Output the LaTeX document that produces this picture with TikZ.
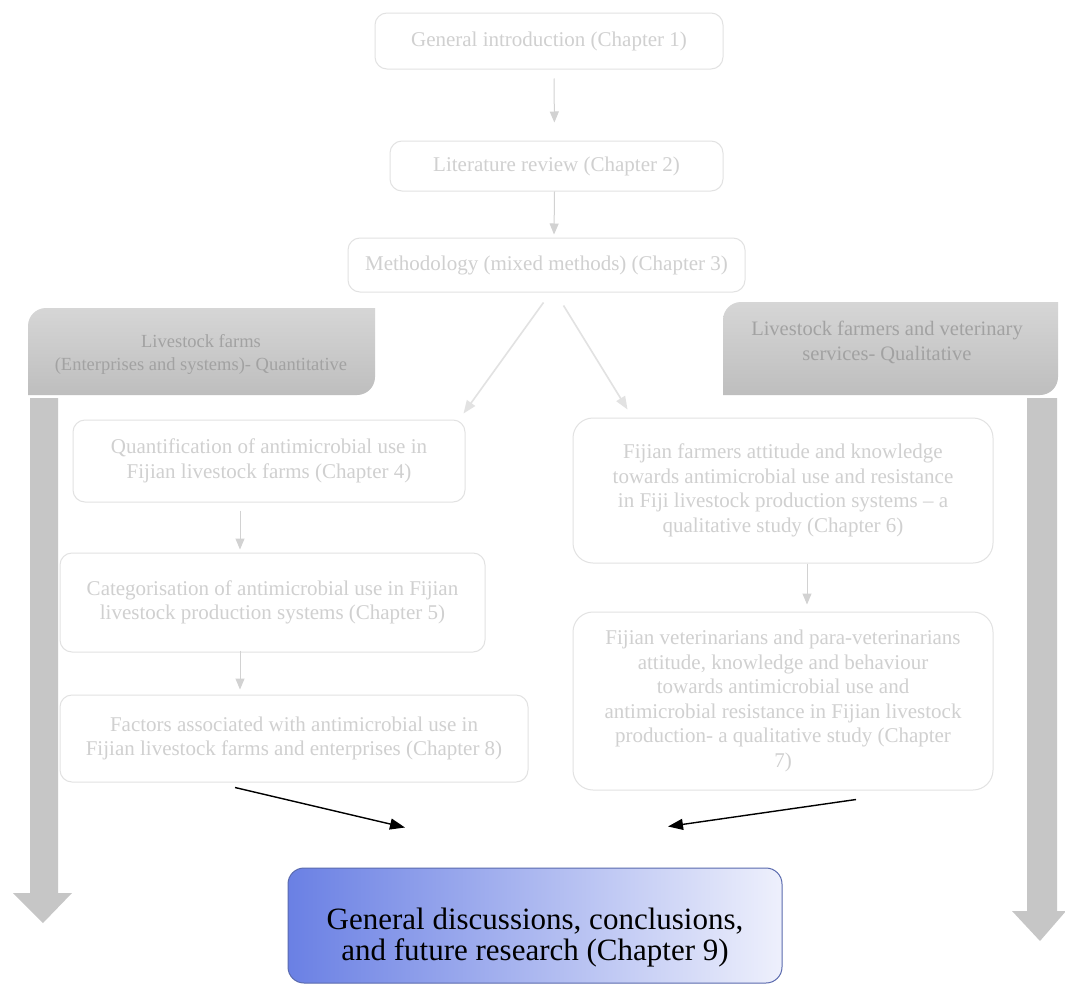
\documentclass[tikz,border=0pt]{standalone}
\usepackage{fontspec}
\setmainfont{Liberation Serif}
\usetikzlibrary{calc,arrows.meta}

\definecolor{boxline}{HTML}{E2E2E2}
\definecolor{boxtext}{HTML}{D0D0D0}
\definecolor{faintarrow}{HTML}{D2D2D2}
\definecolor{hdrtop}{HTML}{D6D6D6}
\definecolor{hdrbottom}{HTML}{BEBEBE}
\definecolor{hdrtext}{HTML}{A2A2A2}
\definecolor{shaftgray}{HTML}{C6C6C6}
\definecolor{finalleft}{HTML}{6A80E4}
\definecolor{finalright}{HTML}{EEF0FC}
\definecolor{finalline}{HTML}{5A6AAE}

\tikzset{
  chapbox/.style={draw=boxline, line width=1pt, rounded corners=12pt,
    text=boxtext, align=center, inner sep=0pt,
    font=\fontsize{21}{24.5}\selectfont},
  hdrtextnode/.style={text=hdrtext, align=center, inner sep=0pt},
  faintarr/.style={draw=faintarrow, line width=1pt,
    -{Triangle[length=11pt,width=9pt]}},
  diagarr/.style={draw=boxline, line width=1.6pt,
    -{Triangle[length=13pt,width=10pt]}},
  blackarr/.style={draw=black, line width=1.4pt,
    -{Triangle[length=15pt,width=11pt]}},
  finalbox/.style={draw=finalline, line width=1pt, rounded corners=16pt,
    left color=finalleft, right color=finalright},
  finaltextnode/.style={text=black, align=center, inner sep=0pt,
    font=\fontsize{31}{31.5}\selectfont},
  shaft/.style={fill=shaftgray, draw=none},
}

\begin{document}
\begin{tikzpicture}[x=1pt,y=-1pt]
\useasboundingbox[fill=white] (0,0) rectangle (1065,985);

% column headers: rounded at top-left and bottom-right only
\shade[top color=hdrtop, bottom color=hdrbottom]
  (28,395) -- (28,326) arc[start angle=180, end angle=270, radius=18]
  -- (375,308) -- (375,377) arc[start angle=0, end angle=90, radius=18]
  -- cycle;
\shade[top color=hdrtop, bottom color=hdrbottom]
  (723,395) -- (723,320) arc[start angle=180, end angle=270, radius=18]
  -- (1058,302) -- (1058,377) arc[start angle=0, end angle=90, radius=18]
  -- cycle;
\node[hdrtextnode, font=\fontsize{18.5}{23}\selectfont] (hdrL) at (201,354)
  {Livestock farms\\(Enterprises and systems)- Quantitative};
\node[hdrtextnode, font=\fontsize{20.5}{25}\selectfont] (hdrR) at (887,342)
  {Livestock farmers and veterinary\\services- Qualitative};

% broad downward arrows under the headers
\fill[shaft] (30,398) -- (58,398) -- (58,893) -- (72,893) -- (43,923)
  -- (13,893) -- (30,893) -- cycle;
\fill[shaft] (1027,398) -- (1057,398) -- (1057,911) -- (1066,911)
  -- (1040,941) -- (1012,911) -- (1027,911) -- cycle;

% chapter boxes
\node[chapbox, minimum width=348pt, minimum height=56pt] (ch1) at (549,41)
  {General introduction (Chapter 1)};
\node[chapbox, minimum width=333pt, minimum height=50pt] (ch2) at (556.5,166)
  {Literature review (Chapter 2)};
\node[chapbox, minimum width=397pt, minimum height=54pt] (ch3) at (546.5,265)
  {Methodology (mixed methods) (Chapter 3)};
\node[chapbox, minimum width=392pt, minimum height=82pt] (ch4) at (269,461)
  {Quantification of antimicrobial use in\\Fijian livestock farms (Chapter 4)};
\node[chapbox, minimum width=425pt, minimum height=99pt] (ch5) at (272.5,602.5)
  {Categorisation of antimicrobial use in Fijian\\livestock production systems (Chapter 5)};
\node[chapbox, minimum width=468pt, minimum height=87pt] (ch8) at (294,738.5)
  {Factors associated with antimicrobial use in\\Fijian livestock farms and enterprises (Chapter 8)};
\node[chapbox, rounded corners=20pt, minimum width=420pt, minimum height=145pt]
  (ch6) at (783,490.5)
  {Fijian farmers attitude and knowledge\\towards antimicrobial use and resistance\\in Fiji livestock production systems – a\\qualitative study (Chapter 6)};
\node[chapbox, rounded corners=20pt, minimum width=420pt, minimum height=178pt]
  (ch7) at (783,701)
  {Fijian veterinarians and para-veterinarians\\attitude, knowledge and behaviour\\towards antimicrobial use and\\antimicrobial resistance in Fijian livestock\\production- a qualitative study (Chapter\\7)};

% concluding chapter: shaded box with its text set a little low
\node[finalbox, minimum width=494pt, minimum height=115pt] (final) at (535,925.5) {};
\node[finaltextnode] (finaltext) at ($(final.center)+(0,12)$)
  {General discussions, conclusions,\\and future research (Chapter 9)};

% flow between chapters
\draw[faintarr, shorten <=9pt, shorten >=18pt]
  ($(ch1.south)+(5,0)$) -- ($(ch2.north)+(-2,0)$);
\draw[faintarr, shorten >=3pt]
  ($(ch2.south)+(-2,0)$) -- ($(ch3.north)+(7.5,0)$);
\draw[diagarr] ($(ch3.south)+(-3,10)$) -- ($(ch4.north east)+(-2,-6)$);
\draw[diagarr] ($(ch3.south)+(17,13)$) -- ($(ch6.north west)+(55,-8)$);
\draw[faintarr, shorten <=8pt, shorten >=3pt]
  ($(ch4.south)+(-29,0)$) -- ($(ch5.north)+(-32.5,0)$);
\draw[faintarr, shorten <=-2pt, shorten >=5pt]
  ($(ch5.south)+(-32.5,0)$) -- ($(ch8.north)+(-54,0)$);
\draw[faintarr, shorten >=7pt]
  ($(ch6.south)+(24,0)$) -- ($(ch7.north)+(24,0)$);
\draw[blackarr] ($(ch8.south)+(-59,5)$) -- ($(final.north)+(-130,-40)$);
\draw[blackarr] ($(ch7.south)+(73,9)$) -- ($(final.north)+(133,-41)$);
\end{tikzpicture}
\end{document}
